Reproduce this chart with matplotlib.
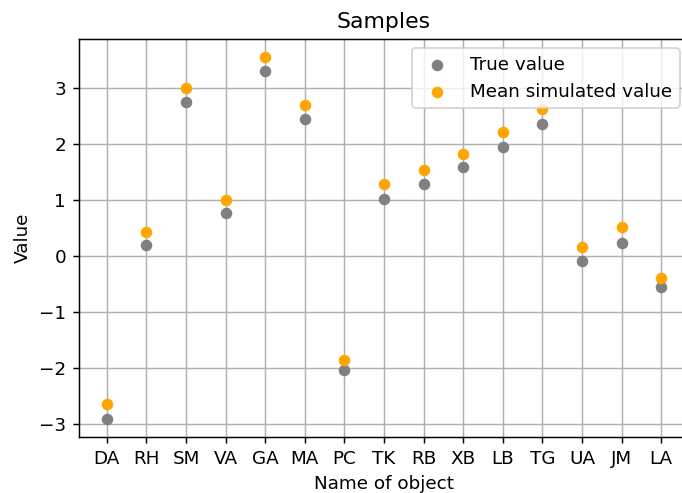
import numpy as np
import matplotlib
matplotlib.use('Agg')
import matplotlib.pyplot as plt

# 対象名
names = ['DA', 'RH', 'SM', 'VA', 'GA', 'MA', 'PC', 'TK', 'RB', 'XB', 'LB', 'TG', 'UA', 'JM', 'LA']
# 真値
true_values = [-2.91, 0.20, 2.75, 0.77, 3.30, 2.44, -2.04, 1.01, 1.29, 1.59, 1.94, 2.35, -0.09, 0.23, -0.56]
# シミュレーション平均値
mean_sim_values = [-2.65, 0.43, 3.00, 0.99, 3.55, 2.69, -1.85, 1.29, 1.54, 1.82, 2.21, 2.62, 0.16, 0.51, -0.39]

dpi = 132
fig, ax = plt.subplots(figsize=(682 / dpi, 493 / dpi), dpi=dpi)
ax.scatter(names, true_values, s=28, color='grey', label='True value', zorder=3)
ax.scatter(names, mean_sim_values, s=28, color='orange', label='Mean simulated value', zorder=3)
ax.set_title('Samples')
ax.set_xlabel('Name of object')
ax.set_ylabel('Value')
ax.grid(True)
ax.set_axisbelow(True)
ax.legend(loc='upper right')
# 右端は元画像で切れているので軸を少しはみ出させる
fig.subplots_adjust(left=79 / 682, right=689 / 682, top=1 - 39 / 493, bottom=1 - 437 / 493)
plt.savefig('out.png', dpi=dpi)
